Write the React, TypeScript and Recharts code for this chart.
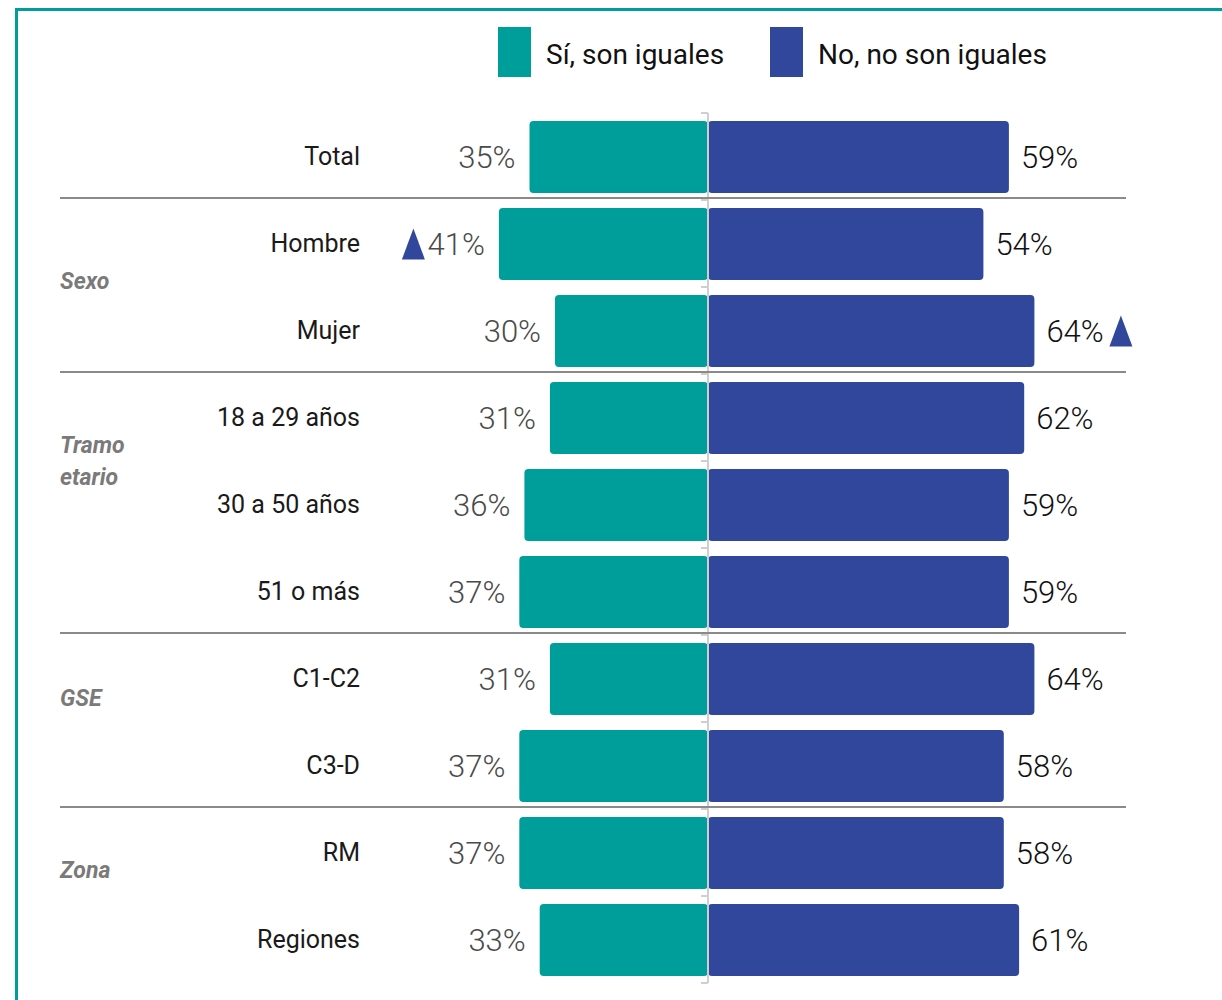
import { Bar, BarChart, LabelList, ReferenceLine, XAxis, YAxis } from "recharts";

// ---- data ----
const categories = [
  "Total",
  "Hombre",
  "Mujer",
  "18 a 29 años",
  "30 a 50 años",
  "51 o más",
  "C1-C2",
  "C3-D",
  "RM",
  "Regiones",
];
const siValues = [35, 41, 30, 31, 36, 37, 31, 37, 37, 33];
const noValues = [59, 54, 64, 62, 59, 59, 64, 58, 58, 61];
// significant difference markers (up triangle)
const siMarked = [false, true, false, false, false, false, false, false, false, false];
const noMarked = [false, false, true, false, false, false, false, false, false, false];

const groupLabels = ["Sexo", "Tramo etario", "GSE", "Zona"];
const groupStarts = [1, 3, 6, 8];

const seriesNames = ["Sí, son iguales", "No, no son iguales"];

// ---- style ----
const TEAL = "#009E9A";
const BLUE = "#30479C";
const FONT = "Roboto, 'Noto Sans', sans-serif";

const CHART_W = 1222;
const CHART_H = 1000;
const MARGIN = { top: 113, right: 4, bottom: 17, left: 0 };
const Y_AXIS_W = 198;
const X_MIN = -100;
const X_MAX = 100;
const PLOT_W = CHART_W - MARGIN.left - MARGIN.right - Y_AXIS_W;
const PLOT_LEFT = MARGIN.left + Y_AXIS_W;
const CENTER_X = PLOT_LEFT + ((0 - X_MIN) / (X_MAX - X_MIN)) * PLOT_W;
const BAND = (CHART_H - MARGIN.top - MARGIN.bottom) / categories.length;
const LABEL_X = 360;
const GROUP_X = 60;
const GROUP_DY = [38, 44, 20, 18];

const rows = categories.map((label, i) => ({
  label,
  si: -siValues[i],
  no: noValues[i],
}));

function Triangle({ x, cy }: { x: number; cy: number }) {
  const w = 23;
  const h = 31;
  return (
    <polygon
      points={`${x},${cy + h / 2} ${x + w / 2},${cy - h / 2} ${x + w},${cy + h / 2}`}
      fill={BLUE}
    />
  );
}

function SiLabel(props: any) {
  const { x, y, width, height, index } = props;
  const left = Math.min(x, x + width);
  const cy = y + height / 2;
  const tx = left - 14;
  return (
    <g>
      <text
        x={tx}
        y={cy}
        textAnchor="end"
        dominantBaseline="central"
        fontFamily={FONT}
        fontWeight={300}
        fontSize={31}
        fill="#4a4a4a"
      >
        {siValues[index]}%
      </text>
      {siMarked[index] && <Triangle x={tx - 83} cy={cy} />}
    </g>
  );
}

function NoLabel(props: any) {
  const { x, y, width, height, index } = props;
  const right = Math.max(x, x + width);
  const cy = y + height / 2;
  const tx = right + 12;
  return (
    <g>
      <text
        x={tx}
        y={cy}
        textAnchor="start"
        dominantBaseline="central"
        fontFamily={FONT}
        fontWeight={300}
        fontSize={31}
        fill="#111"
      >
        {noValues[index]}%
      </text>
      {noMarked[index] && <Triangle x={tx + 63} cy={cy} />}
    </g>
  );
}

function CategoryTick(props: any) {
  const { y, payload, index } = props;
  const g = groupStarts.indexOf(index);
  const top = y - BAND / 2;
  const groupLines = g >= 0 ? groupLabels[g].split(" ") : [];
  return (
    <g>
      <text
        x={LABEL_X}
        y={y}
        textAnchor="end"
        dominantBaseline="central"
        fontFamily={FONT}
        fontSize={25}
        fill="#1a1a1a"
      >
        {payload.value}
      </text>
      {g >= 0 && (
        <line x1={GROUP_X} x2={1126} y1={top - 2} y2={top - 2} stroke="#8a8a8a" strokeWidth={2} />
      )}
      {groupLines.map((word, k) => (
        <text
          key={word}
          x={GROUP_X}
          y={y + GROUP_DY[g] + (k - (groupLines.length - 1) / 2) * 32}
          dominantBaseline="central"
          fontFamily={FONT}
          fontStyle="italic"
          fontWeight={700}
          fontSize={23}
          fill="#7a7a7a"
        >
          {word}
        </text>
      ))}
      <line x1={CENTER_X - 7} x2={CENTER_X} y1={top} y2={top} stroke="#cfcfcf" strokeWidth={2} />
      {index === categories.length - 1 && (
        <line
          x1={CENTER_X - 7}
          x2={CENTER_X}
          y1={y + BAND / 2}
          y2={y + BAND / 2}
          stroke="#cfcfcf"
          strokeWidth={2}
        />
      )}
    </g>
  );
}

function Legend() {
  const colors = [TEAL, BLUE];
  const xs = [498, 770];
  return (
    <>
      {seriesNames.map((name, i) => (
        <div key={name}>
          <div
            style={{
              position: "absolute",
              left: xs[i],
              top: 27,
              width: 33,
              height: 50,
              background: colors[i],
            }}
          />
          <div
            style={{
              position: "absolute",
              left: xs[i] + 48,
              top: 54,
              transform: "translateY(-50%)",
              fontFamily: FONT,
              fontSize: 28,
              color: "#111",
              whiteSpace: "nowrap",
            }}
          >
            {name}
          </div>
        </div>
      ))}
    </>
  );
}

export default function App() {
  return (
    <div
      style={{
        position: "absolute",
        left: 0,
        top: 0,
        width: CHART_W,
        height: CHART_H,
        background: "#fff",
        overflow: "hidden",
      }}
    >
      <div
        style={{
          position: "absolute",
          left: 15,
          top: 8,
          width: CHART_W,
          height: CHART_H,
          borderLeft: `3px solid ${TEAL}`,
          borderTop: `3px solid ${TEAL}`,
        }}
      />
      <Legend />
      <div style={{ position: "absolute", left: 0, top: 0 }}>
        <BarChart
          width={CHART_W}
          height={CHART_H}
          data={rows}
          layout="vertical"
          stackOffset="sign"
          margin={MARGIN}
        >
          <XAxis type="number" domain={[X_MIN, X_MAX]} hide />
          <YAxis
            type="category"
            dataKey="label"
            width={Y_AXIS_W}
            axisLine={false}
            tickLine={false}
            interval={0}
            tick={(p: any) => <CategoryTick {...p} />}
          />
          <Bar dataKey="si" stackId="s" fill={TEAL} barSize={72} radius={4} isAnimationActive={false}>
            <LabelList dataKey="si" content={(p: any) => <SiLabel {...p} />} />
          </Bar>
          <Bar dataKey="no" stackId="s" fill={BLUE} barSize={72} radius={4} isAnimationActive={false}>
            <LabelList dataKey="no" content={(p: any) => <NoLabel {...p} />} />
          </Bar>
          <ReferenceLine x={0} stroke="#cfcfcf" strokeWidth={2} />
        </BarChart>
      </div>
    </div>
  );
}
